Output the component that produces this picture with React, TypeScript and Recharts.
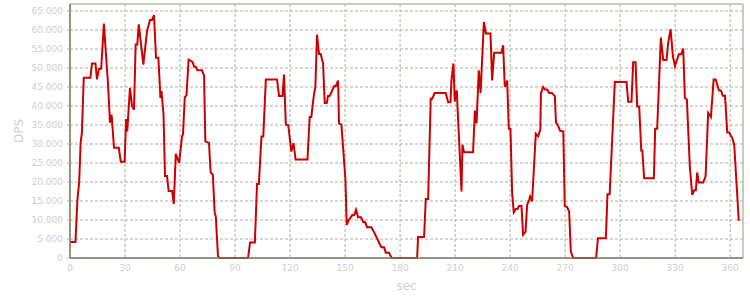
import { LineChart, Line, XAxis, YAxis, CartesianGrid, ReferenceLine, Label } from 'recharts';

// samples (seconds, damage per second)
const secs = [
  0, 3, 4, 5, 5.8, 6.5, 7.5, 11.1, 12, 13.9, 14.7, 15.8, 17, 18.5, 19.3, 20.7, 21.8, 22.7, 24, 26.6,
  27.7, 29.8, 30.6, 31.2, 32.7, 33.8, 34.9, 35.8, 36.7, 37.5, 40, 42, 43.6, 44.7, 45.8, 46.9, 48.2, 49.3, 49.9, 51,
  51.8, 52.9, 53.8, 55.7, 56.6, 57.7, 59.5, 61.1, 61.6, 62.6, 63.5, 64.7, 66.8, 67.7, 68.5, 69.5, 72, 73.1, 73.8, 75.8,
  76.7, 77.9, 78.9, 79.5, 80.7, 81.5, 97.1, 98.2, 100.8, 102, 103, 104.4, 105.4, 106.8, 112.9, 114, 115.9, 116.7, 117.7, 119,
  120.7, 121.9, 123, 129.5, 130.7, 131.6, 132.9, 133.8, 134.7, 135.8, 136.7, 138, 138.9, 140, 140.7, 141.6, 144, 144.9, 146.2, 146.7,
  148, 150.2, 150.9, 152, 154, 155, 156, 157.1, 158.7, 160, 161, 162, 164.3, 165.8, 168, 169.8, 171.3, 172.2, 174, 175.3,
  189.3, 189.8, 193.1, 194, 195.3, 196.7, 197.5, 198.9, 204.9, 206.2, 207.5, 208, 209.1, 209.8, 210.9, 213.5, 214, 214.9, 219.8, 220.8,
  221.7, 222.9, 223.9, 225.7, 226.8, 229.3, 230.2, 231.3, 235.3, 236.2, 237.1, 238.4, 239.3, 240.2, 241.1, 242, 243.1, 244, 244.9, 246.2,
  247.1, 248.4, 249.3, 250.4, 250.9, 252, 254, 255.3, 256.5, 256.8, 258, 259, 260.3, 261.3, 262.8, 264.4, 265, 266.2, 267.2, 269,
  269.8, 271, 272.2, 273.1, 274.4, 286.9, 287.9, 292.2, 293.1, 294.3, 297.1, 303.5, 304.4, 306.2, 307.1, 308.4, 309.3, 310.4, 311.5, 312.1,
  313.1, 318.4, 319.1, 320.2, 322.2, 323.5, 325.3, 326.2, 327.5, 328.8, 329.9, 332, 333.3, 334.4, 335.3, 336.4, 338, 339.3, 340.4, 341.3,
  342, 342.9, 345.3, 346.6, 348, 349.5, 351, 352.1, 353.9, 355, 356, 357.2, 358.4, 359.5, 361.1, 362.2, 364.7,
];

const dps = [
  4200, 4200, 15000, 20000, 30300, 33000, 47400, 47400, 51200, 51200, 47000, 49800, 49800, 61700, 55800, 46000, 35600, 37700, 29000, 29000,
  25300, 25300, 36600, 33300, 44800, 40100, 39000, 56200, 56200, 61500, 50900, 59700, 62600, 62600, 63900, 52700, 52700, 42100, 43900, 37700,
  21600, 21600, 17600, 17600, 14200, 27400, 25000, 32000, 32500, 42300, 42800, 52200, 51600, 50300, 50300, 49400, 49400, 48000, 30700, 30300,
  22500, 21900, 11800, 11000, 500, 0, 0, 4100, 4100, 19500, 19500, 32000, 32000, 47000, 47000, 42600, 42600, 48300, 35100, 35000,
  28000, 30200, 25900, 25900, 37100, 37100, 42600, 45000, 58800, 53700, 53700, 51200, 40800, 40800, 42600, 42600, 45200, 45200, 46700, 35400,
  35100, 20600, 8700, 10000, 11300, 11300, 12700, 10700, 10700, 9400, 9400, 8100, 8100, 6800, 4600, 2800, 2800, 1400, 1400, 0,
  0, 5500, 5500, 15500, 15500, 41900, 41900, 43400, 43400, 41000, 41000, 46700, 51200, 41200, 44100, 17500, 29800, 27800, 27800, 38800,
  35400, 49400, 43400, 62100, 59100, 59100, 46700, 54000, 54000, 56000, 45000, 46700, 34000, 34000, 17100, 12000, 12900, 12900, 13700, 13700,
  6100, 6900, 14000, 15300, 16200, 14900, 32700, 32000, 33800, 43400, 45000, 44400, 44300, 43400, 43400, 42600, 35700, 34800, 33500, 33300,
  13700, 13400, 12200, 1700, 0, 0, 5200, 5200, 16800, 16800, 46300, 46300, 41100, 41100, 51500, 51500, 39900, 39900, 28300, 28300,
  21000, 21000, 34000, 34000, 58000, 52100, 52100, 56600, 60200, 53000, 50500, 53600, 53600, 55100, 42100, 41700, 24100, 16600, 17800, 17800,
  22500, 19900, 19900, 21500, 38200, 37100, 47000, 47000, 44100, 44100, 42700, 42700, 33000, 33000, 31600, 29800, 9800,
];

const xTicks = [0, 30, 60, 90, 120, 150, 180, 210, 240, 270, 300, 330, 360];
const yTicks = [0, 5000, 10000, 15000, 20000, 25000, 30000, 35000, 40000, 45000, 50000, 55000, 60000, 65000];

const X_MAX = 367;
const Y_MAX = 66840;

const data = secs.map((s, i) => ({ sec: s, dps: dps[i] }));

const fmt = (v: number) => String(v).replace(/\B(?=(\d{3})+(?!\d))/g, '.');

const labelColor = '#cfcfcf';
const font = 'DejaVu Sans, Verdana, sans-serif';

export default function App() {
  return (
    <div style={{ width: 750, height: 300 }}>
      <style>{'body{margin:0}'}</style>
      <LineChart width={750} height={300} data={data} margin={{ top: 4, right: 7, left: 0, bottom: 0 }}>
        <CartesianGrid stroke="#b0b0a0" strokeDasharray="3 2" verticalValues={xTicks} horizontalValues={yTicks} />
        <XAxis
          type="number"
          dataKey="sec"
          domain={[0, X_MAX]}
          ticks={xTicks}
          height={42}
          axisLine={{ stroke: '#7a7a62', strokeWidth: 1.5 }}
          tickLine={false}
          tickSize={4}
          tickMargin={3}
          tick={{ fill: labelColor, fontSize: 9, fontFamily: font }}
        >
          <Label
            content={({ viewBox }: any) => (
              <text
                x={viewBox.x + viewBox.width / 2}
                y={286}
                textAnchor="middle"
                dominantBaseline="central"
                fill={labelColor}
                fontSize={12}
                fontFamily={font}
              >
                sec
              </text>
            )}
          />
        </XAxis>
        <YAxis
          type="number"
          domain={[0, Y_MAX]}
          ticks={yTicks}
          width={70}
          interval={0}
          tickFormatter={fmt}
          axisLine={{ stroke: '#7a7a62', strokeWidth: 1.5 }}
          tickLine={{ stroke: '#b0b0a0' }}
          tickSize={3}
          tickMargin={4}
          tick={{ fill: labelColor, fontSize: 9, fontFamily: font }}
        >
          <Label
            content={({ viewBox }: any) => {
              const cy = viewBox.y + viewBox.height / 2;
              return (
                <text
                  x={19}
                  y={cy}
                  transform={`rotate(-90, 19, ${cy})`}
                  textAnchor="middle"
                  dominantBaseline="central"
                  fill={labelColor}
                  fontSize={12}
                  fontFamily={font}
                >
                  DPS
                </text>
              );
            }}
          />
        </YAxis>
        <ReferenceLine y={Y_MAX} stroke="#b8b8a8" strokeWidth={1.5} />
        <ReferenceLine x={X_MAX} stroke="#b8b8a8" strokeWidth={1.5} />
        <Line
          type="linear"
          dataKey="dps"
          stroke="#cc0000"
          strokeWidth={2}
          dot={false}
          activeDot={false}
          isAnimationActive={false}
        />
      </LineChart>
    </div>
  );
}
